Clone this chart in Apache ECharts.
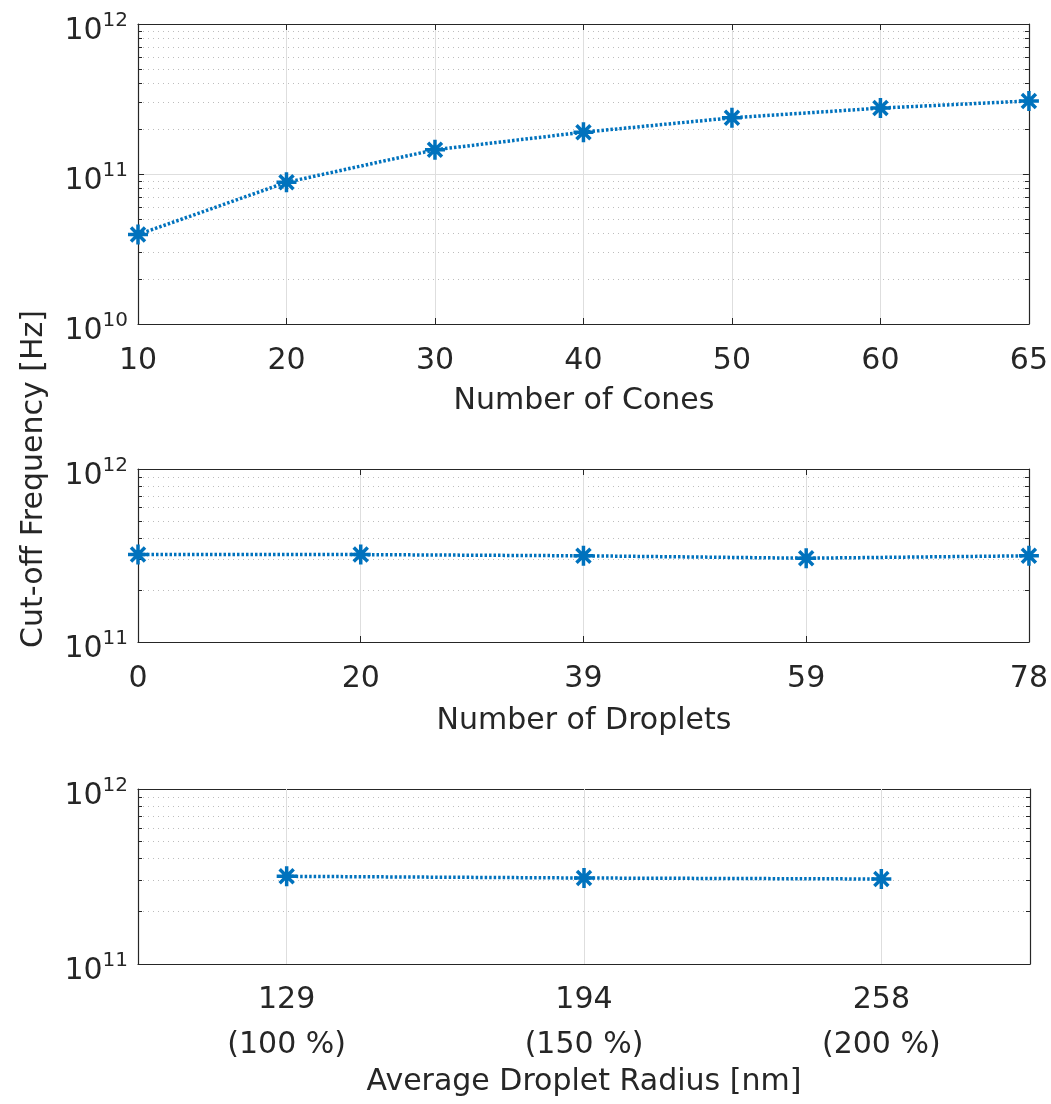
<!DOCTYPE html>
<html><head><meta charset="utf-8">
<script src="https://cdn.jsdelivr.net/npm/echarts@6/dist/echarts.min.js"></script>
<style>html,body{margin:0;padding:0;background:#fff}#c{width:1051px;height:1104px}</style>
</head><body><div id="c"></div>
<script>
// ---- data ----
const conesCats = ['10','20','30','40','50','60','65'];
const conesVals = [3.95e10, 8.8e10, 1.45e11, 1.9e11, 2.37e11, 2.75e11, 3.07e11];
const dropletCats = ['0','20','39','59','78'];
const dropletVals = [3.2e11, 3.2e11, 3.15e11, 3.05e11, 3.15e11];
const radiusCats = ['129','194','258'];
const radiusPct = ['100 %','150 %','200 %'];
const radiusVals = [3.17e11, 3.1e11, 3.06e11];
const yRanges = [[1e10, 1e12], [1e11, 1e12], [1e11, 1e12]];
const xTitles = ['Number of Cones','Number of Droplets','Average Droplet Radius [nm]'];
const yTitle = 'Cut-off Frequency [Hz]';

const TXT = '#262626', BLUE = '#0072BD', FONT = 'DejaVu Sans, sans-serif';
const FS = 30;
const grids = [
  {left:138, right:21, top:24, height:300},
  {left:138, right:21, top:469, height:173},
  {left:138, right:21, top:789, height:175}
];
const yLabel = {
  fontFamily: FONT, color: TXT, margin: 10,
  formatter: v => '{b|10}{s|' + Math.round(Math.log10(v)) + '}',
  rich: { b:{fontSize:FS, fontFamily:FONT, color:TXT, lineHeight:30, padding:[14,0,0,0]},
          s:{fontSize:20, fontFamily:FONT, color:TXT, lineHeight:20, padding:[0,0,6,0]} }
};
const xAxes = [], yAxes = [], series = [];
const cats = [conesCats, dropletCats, radiusCats];
const vals = [conesVals, dropletVals, radiusVals];
for(let i=0;i<3;i++){
  const bg = i===2;
  xAxes.push({
    type:'category', gridIndex:i, data:cats[i], boundaryGap:bg, position:'bottom',
    axisLine:{lineStyle:{color:TXT,width:1.2}},
    axisTick:{show:true, inside:true, length:6, alignWithLabel:true, lineStyle:{color:TXT}},
    splitLine:{show:!bg, lineStyle:{color:'#dedede', width:1}},
    axisLabel:{fontFamily:FONT, fontSize:FS, color:TXT, margin: bg ? 14 : 22,
      formatter: bg ? ((v,idx)=> v + '\n(' + radiusPct[idx] + ')') : undefined,
      lineHeight: bg ? 45 : 30}
  });
  xAxes.push({
    type:'category', gridIndex:i, data:cats[i], boundaryGap:bg, position:'top',
    axisLine:{lineStyle:{color:TXT,width:1.2}},
    axisTick:{show:true, inside:true, length:6, alignWithLabel:true, lineStyle:{color:TXT}},
    axisLabel:{show:false}, splitLine:{show:false}
  });
  yAxes.push({
    type:'log', logBase:10, gridIndex:i, min:yRanges[i][0], max:yRanges[i][1], position:'left',
    axisLine:{show:true, lineStyle:{color:TXT,width:1.2}},
    axisTick:{show:true, inside:true, length:6, lineStyle:{color:TXT}},
    minorTick:{show:true, splitNumber:9, length:4, lineStyle:{color:TXT}},
    splitLine:{show:true, lineStyle:{color:'#dedede', width:1}},
    minorSplitLine:{show:true, lineStyle:{color:'#bdbdbd', width:1, type:[1,4]}},
    axisLabel:yLabel
  });
  yAxes.push({
    type:'log', logBase:10, gridIndex:i, min:yRanges[i][0], max:yRanges[i][1], position:'right',
    axisLine:{show:true, lineStyle:{color:TXT,width:1.2}},
    axisTick:{show:true, inside:true, length:6, lineStyle:{color:TXT}},
    minorTick:{show:true, splitNumber:9, length:4, lineStyle:{color:TXT}},
    splitLine:{show:false}, axisLabel:{show:false}
  });
  const s = {
    type:'line', xAxisIndex:2*i, yAxisIndex:2*i, data:vals[i],
    symbol:'path://M10 0L10 20M0 10L20 10M3 3L17 17M17 3L3 17', symbolSize:20,
    itemStyle:{color:BLUE, borderColor:BLUE, borderWidth:3.5},
    lineStyle:{color:BLUE, width:3.5, type:[2.5,2]},
    z:5, animation:false
  };
  if(bg){
    s.markLine = {silent:true, symbol:'none', animation:false, label:{show:false},
      lineStyle:{color:'#dedede', width:1, type:'solid'},
      data: radiusCats.map(c=>({xAxis:c})), z:1};
  }
  series.push(s);
}
const titleY = [401, 721, 1082];
const graphics = [{type:'text', x:34, y:479, rotation:Math.PI/2,
    style:{text:yTitle, fontFamily:FONT, fontSize:FS, fill:TXT, align:'center', verticalAlign:'middle'}}];
for(let i=0;i<3;i++){
  graphics.push({type:'text', x:584, y:titleY[i],
    style:{text:xTitles[i], fontFamily:FONT, fontSize:FS, fill:TXT, align:'center', verticalAlign:'middle'}});
}
const chart = echarts.init(document.getElementById('c'));
chart.setOption({
  animation:false, backgroundColor:'#fff',
  grid:grids, xAxis:xAxes, yAxis:yAxes, series:series, graphic:graphics
});
</script></body></html>
